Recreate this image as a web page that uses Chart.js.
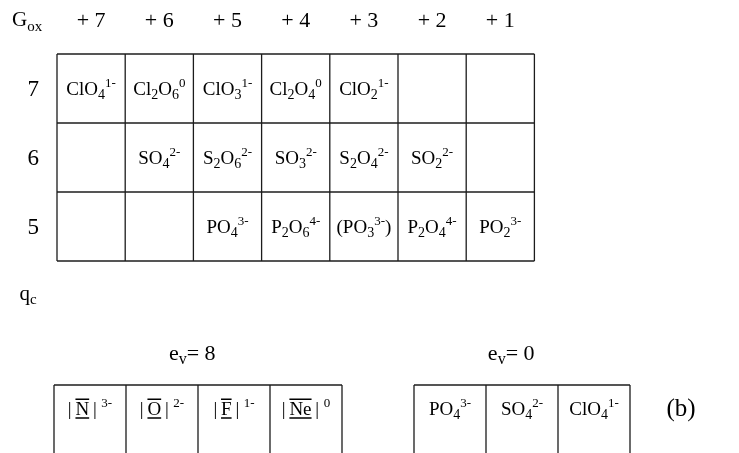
<!DOCTYPE html>
<html><head><meta charset="utf-8">
<script src="https://cdn.jsdelivr.net/npm/chart.js@4/dist/chart.umd.min.js"></script>
<style>html,body{margin:0;padding:0;background:#fff}#wrap{width:739px;height:453px;position:relative}</style>
</head><body><div id="wrap"><canvas id="c" width="739" height="453"></canvas></div>
<script>
// ---- data ----
const oxidationStates = ['+ 7','+ 6','+ 5','+ 4','+ 3','+ 2','+ 1'];
const coreCharges = ['7','6','5'];
const chlorineRow = ['ClO_4^1-','Cl_2O_6^0','ClO_3^1-','Cl_2O_4^0','ClO_2^1-','',''];
const sulfurRow = ['','SO_4^2-','S_2O_6^2-','SO_3^2-','S_2O_4^2-','SO_2^2-',''];
const phosphorusRow = ['','','PO_4^3-','P_2O_6^4-','(PO_3^3-)','P_2O_4^4-','PO_2^3-'];
const octetSymbols = ['N','O','F','Ne'];
const octetCharges = ['3-','2-','1-','0'];
const emptyShellIons = ['PO_4^3-','SO_4^2-','ClO_4^1-'];
const octetTitle = 'e_v= 8';
const emptyTitle = 'e_v= 0';
const oxAxisTitle = 'G_ox';
const coreAxisTitle = 'q_c';
const panelLabel = '(b)';

// ---- style / layout ----
const FONT = '"Liberation Serif","Times New Roman",serif';
const LINE = '#1c1c1c';
const tableRows = [chlorineRow, sulfurRow, phosphorusRow];
const nCols = oxidationStates.length, nRows = coreCharges.length;

function parseFormula(s){
  const out=[]; let i=0;
  while(i<s.length){
    const c=s[i];
    if(c==='_'){
      let j=i+1,t='';
      if(/[0-9]/.test(s[j])){ while(j<s.length && /[0-9]/.test(s[j])){t+=s[j];j++;} }
      else { while(j<s.length && /[a-z]/.test(s[j])){t+=s[j];j++;} }
      out.push({t,k:'sub'}); i=j;
    }
    else if(c==='^'){ let j=i+1,t=''; while(j<s.length && s[j]!==')'){t+=s[j];j++;} out.push({t,k:'sup'}); i=j; }
    else { let t=''; while(i<s.length && s[i]!=='_' && s[i]!=='^'){t+=s[i];i++;} out.push({t,k:'n'}); }
  }
  return out;
}
function fnt(px){return Math.round(px)+'px '+FONT;}
function drawFormula(ctx,s,cx,cy,size,align){
  const toks=parseFormula(s);
  const fs={n:size,sub:size*0.72,sup:size*0.66};
  const dy={n:0,sub:size*0.2,sup:-size*0.42};
  let w=0; const ws=[];
  toks.forEach(t=>{ctx.font=fnt(fs[t.k]); const m=ctx.measureText(t.t).width; ws.push(m); w+=m;});
  let x = align==='left'? cx : cx-w/2;
  const base = cy+size*0.33;
  ctx.textAlign='left'; ctx.textBaseline='alphabetic'; ctx.fillStyle='#000';
  toks.forEach((t,i)=>{ctx.font=fnt(fs[t.k]); ctx.fillText(t.t,x,base+dy[t.k]); x+=ws[i];});
}
function drawOctet(ctx,sym,charge,cx,cy,size){
  ctx.textAlign='left'; ctx.textBaseline='alphabetic'; ctx.fillStyle='#000'; ctx.strokeStyle='#000';
  const f=fnt(size), fsup=fnt(size*0.66);
  ctx.font=f;
  const bar=ctx.measureText('|').width, sw=ctx.measureText(sym).width;
  ctx.font=fsup; const cw=ctx.measureText(charge).width;
  const g=size*0.2;
  const w=bar+g+sw+g+bar+g*1.2+cw;
  let x=cx-w/2; const base=cy+size*0.33;
  ctx.font=f;
  ctx.fillText('|',x,base); x+=bar+g;
  ctx.fillText(sym,x,base);
  ctx.lineWidth=1.5;
  ctx.beginPath();
  ctx.moveTo(x,base-size*0.82); ctx.lineTo(x+sw,base-size*0.82);
  ctx.moveTo(x,base+size*0.17); ctx.lineTo(x+sw,base+size*0.17);
  ctx.stroke();
  x+=sw+g; ctx.fillText('|',x,base); x+=bar+g*1.2;
  ctx.font=fsup; ctx.fillText(charge,x,base-size*0.42);
}

// ---- datasets ----
const lineDS=[];
function seg(a,b,xa,ya){lineDS.push({type:'scatter',showLine:true,data:[a,b],borderColor:LINE,borderWidth:1.3,pointRadius:0,xAxisID:xa,yAxisID:ya});}
for(let i=0;i<=nCols;i++) seg({x:i,y:0},{x:i,y:nRows},'x','y');
for(let j=0;j<=nRows;j++) seg({x:0,y:j},{x:nCols,y:j},'x','y');
const leftCols=octetSymbols.length, rightStart=leftCols+1, rightCols=emptyShellIons.length;
for(let i=0;i<=leftCols;i++) seg({x:i,y:0},{x:i,y:2},'x2','y2');
seg({x:0,y:0},{x:leftCols,y:0},'x2','y2');
for(let i=0;i<=rightCols;i++) seg({x:rightStart+i,y:0},{x:rightStart+i,y:2},'x2','y2');
seg({x:rightStart,y:0},{x:rightStart+rightCols,y:0},'x2','y2');

function txt(points,labels,size,kind,xa,ya,extra){
  return Object.assign({type:'scatter',data:points,labels,size,kind,pointRadius:0,xAxisID:xa||'x',yAxisID:ya||'y'},extra||{});
}
const textDS=[];
textDS.push(txt(oxidationStates.map((_,i)=>({x:i+0.5,y:-0.5})),oxidationStates,22,'f'));
textDS.push(txt([{x:-0.66,y:-0.5}],[oxAxisTitle],21,'f','x','y',{align:'left'}));
textDS.push(txt(coreCharges.map((_,j)=>({x:-0.35,y:j+0.5})),coreCharges,23,'f'));
textDS.push(txt([{x:-0.55,y:3.46}],[coreAxisTitle],21,'f','x','y',{align:'left'}));
tableRows.forEach((row,j)=>{
  const idx=row.map((v,i)=>i).filter(i=>row[i]);
  textDS.push(txt(idx.map(i=>({x:i+0.5,y:j+0.5})),idx.map(i=>row[i]),19,'f'));
});
textDS.push(txt(octetSymbols.map((_,i)=>({x:i+0.5,y:0.34})),octetSymbols,19,'oct','x2','y2',{charges:octetCharges}));
textDS.push(txt(emptyShellIons.map((_,i)=>({x:rightStart+i+0.5,y:0.34})),emptyShellIons,19,'f','x2','y2'));
textDS.push(txt([{x:leftCols/2-0.08,y:-0.47}],[octetTitle],22,'f','x2','y2'));
textDS.push(txt([{x:rightStart+rightCols/2-0.15,y:-0.47}],[emptyTitle],22,'f','x2','y2'));
textDS.push(txt([{x:8.71,y:0.33}],[panelLabel],25,'f','x2','y2'));

const labelPlugin={id:'formulaLabels',afterDatasetsDraw(chart){
  const ctx=chart.ctx; ctx.save();
  chart.data.datasets.forEach((ds,di)=>{
    if(!ds.labels) return;
    const meta=chart.getDatasetMeta(di);
    meta.data.forEach((pt,i)=>{
      if(ds.kind==='oct') drawOctet(ctx,ds.labels[i],ds.charges[i],pt.x,pt.y,ds.size);
      else drawFormula(ctx,ds.labels[i],pt.x,pt.y,ds.size,ds.align);
    });
  });
  ctx.restore();
}};

// scale ranges map table units onto the page
const W=739,H=453, mainLeft=57, cellW=68.2, mainTop=54, cellH=69, botLeft=54, botW=72, botTop=385;
new Chart(document.getElementById('c'),{
  type:'scatter',
  data:{datasets:[...lineDS,...textDS]},
  options:{
    responsive:false,animation:false,devicePixelRatio:1,
    layout:{padding:0},
    plugins:{legend:{display:false},tooltip:{enabled:false}},
    scales:{
      x:{type:'linear',display:false,min:-mainLeft/cellW,max:(W-mainLeft)/cellW},
      y:{type:'linear',display:false,reverse:true,min:-mainTop/cellH,max:(H-mainTop)/cellH},
      x2:{type:'linear',display:false,min:-botLeft/botW,max:(W-botLeft)/botW},
      y2:{type:'linear',display:false,reverse:true,min:-botTop/cellH,max:(H-botTop)/cellH}
    }
  },
  plugins:[labelPlugin]
});
</script></body></html>
